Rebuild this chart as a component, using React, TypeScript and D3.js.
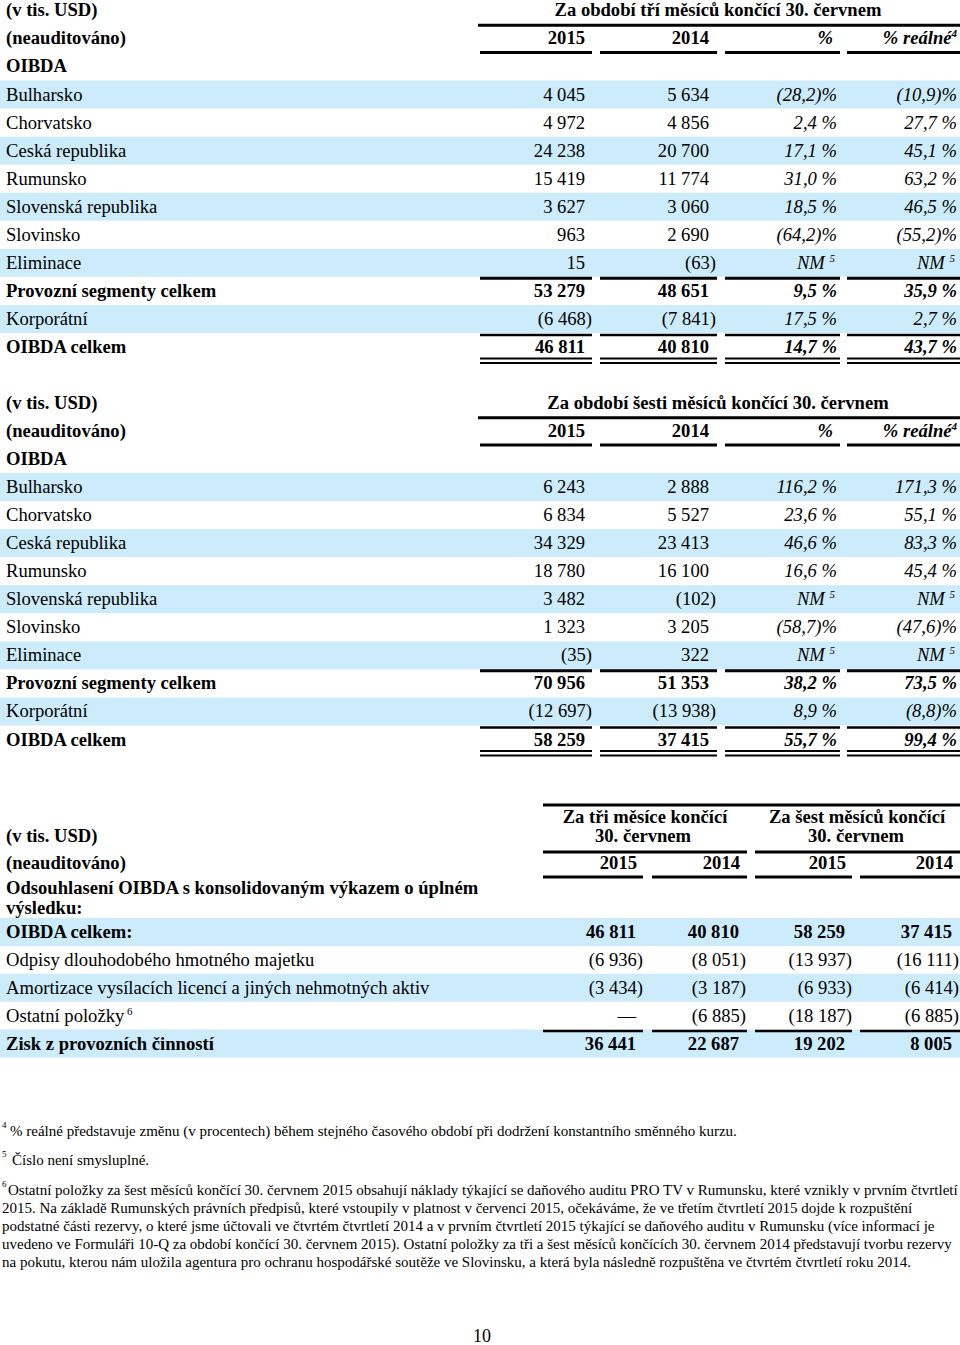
import React from "react";
import * as d3 from "d3";

// ---- data ----
const segments = [
  "Bulharsko",
  "Chorvatsko",
  "Ceská republika",
  "Rumunsko",
  "Slovenská republika",
  "Slovinsko",
  "Eliminace",
  "Provozní segmenty celkem",
  "Korporátní",
  "OIBDA celkem",
];
const boldRows = ["Provozní segmenty celkem", "OIBDA celkem"];

// three months ended 30 June
const q2015 = [4045, 4972, 24238, 15419, 3627, 963, 15, 53279, -6468, 46811];
const q2014 = [5634, 4856, 20700, 11774, 3060, 2690, -63, 48651, -7841, 40810];
const qPct = [-28.2, 2.4, 17.1, 31.0, 18.5, -64.2, null, 9.5, 17.5, 14.7];
const qReal = [-10.9, 27.7, 45.1, 63.2, 46.5, -55.2, null, 35.9, 2.7, 43.7];

// six months ended 30 June
const h2015 = [6243, 6834, 34329, 18780, 3482, 1323, -35, 70956, -12697, 58259];
const h2014 = [2888, 5527, 23413, 16100, -102, 3205, 322, 51353, -13938, 37415];
const hPct = [116.2, 23.6, 46.6, 16.6, null, -58.7, null, 38.2, 8.9, 55.7];
const hReal = [171.3, 55.1, 83.3, 45.4, null, -47.6, null, 73.5, -8.8, 99.4];

// reconciliation
const reconLabels = [
  "OIBDA celkem:",
  "Odpisy dlouhodobého hmotného majetku",
  "Amortizace vysílacích licencí a jiných nehmotných aktiv",
  "Ostatní položky",
  "Zisk z provozních činností",
];
const r3m2015 = [46811, -6936, -3434, null, 36441];
const r3m2014 = [40810, -8051, -3187, -6885, 22687];
const r6m2015 = [58259, -13937, -6933, -18187, 19202];
const r6m2014 = [37415, -16111, -6414, -6885, 8005];

const footnote4 =
  "% reálné představuje změnu (v procentech) během stejného časového období při dodržení konstantního směnného kurzu.";
const footnote5 = "Číslo není smysluplné.";
const footnote6 = [
  "Ostatní položky za šest měsíců končící 30. červnem 2015 obsahují náklady týkající se daňového auditu PRO TV v Rumunsku, které vznikly v prvním čtvrtletí",
  "2015. Na základě Rumunských právních předpisů, které vstoupily v platnost v červenci 2015, očekáváme, že ve třetím čtvrtletí 2015 dojde k rozpuštění",
  "podstatné části rezervy, o které jsme účtovali ve čtvrtém čtvrtletí 2014 a v prvním čtvrtletí 2015 týkající se daňového auditu v Rumunsku (více informací je",
  "uvedeno ve Formuláři 10-Q za období končící 30. červnem 2015). Ostatní položky za tři a šest měsíců končících 30. červnem 2014 představují tvorbu rezervy",
  "na pokutu, kterou nám uložila agentura pro ochranu hospodářské soutěže ve Slovinsku, a která byla následně rozpuštěna ve čtvrtém čtvrtletí roku 2014.",
];

// ---- styling ----
const W = 960;
const H = 1345;
const FONT = "'Liberation Serif', 'Times New Roman', serif";
const FS = 18.6;
const BAND = "#cdecfb";

const locale = d3.formatLocale({ decimal: ",", thousands: " ", grouping: [3], currency: ["", ""] });
const fmtInt = locale.format(",d");
const fmtPct = locale.format(".1f");

const colKeys = ["a", "b", "c", "d"];
const xMain = d3.scaleOrdinal<string, number>().domain(colKeys).range([585, 709, 837, 957]);
const xRecon = d3.scaleOrdinal<string, number>().domain(colKeys).range([636, 739, 845, 952]);

const segsMain = [[480, 592], [600, 717], [725, 840], [847, 960]];
const segsRecon = [[543, 643], [652, 747], [755, 852], [860, 960]];
const segsGroup = [[543, 747], [755, 960]];

const Sup = ({ t }: { t: string }) => (
  <tspan fontSize={11} dy={-7}>{t}</tspan>
);

function NumCell({ x, y, v, bold }: { x: number; y: number; v: number | null; bold?: boolean }) {
  if (v === null) {
    return (
      <text x={x} y={y} textAnchor="end" fontWeight={bold ? "bold" : "normal"}>—</text>
    );
  }
  const neg = v < 0;
  return (
    <text x={neg ? x + 7 : x} y={y} textAnchor="end" fontWeight={bold ? "bold" : "normal"}>
      {neg ? `(${fmtInt(-v)})` : fmtInt(v)}
    </text>
  );
}

function PctCell({ x, y, v, bold }: { x: number; y: number; v: number | null; bold?: boolean }) {
  const fw = bold ? "bold" : "normal";
  if (v === null) {
    return (
      <text x={x - 2} y={y} textAnchor="end" fontStyle="italic" fontWeight={fw}>
        NM <Sup t="5" />
      </text>
    );
  }
  return (
    <text x={x} y={y} textAnchor="end" fontStyle="italic" fontWeight={fw}>
      {v < 0 ? `(${fmtPct(-v)})%` : `${fmtPct(v)} %`}
    </text>
  );
}

function Segs({ segs, y, w }: { segs: number[][]; y: number; w: number }) {
  return (
    <g>
      {segs.map((s, i) => (
        <line key={i} x1={s[0]} x2={s[1]} y1={y} y2={y} stroke="#000" strokeWidth={w} />
      ))}
    </g>
  );
}

function SegmentTable({
  y0,
  y9,
  title,
  c2015,
  c2014,
  cPct,
  cReal,
}: {
  y0: number;
  y9: number;
  title: string;
  c2015: (number | null)[];
  c2014: (number | null)[];
  cPct: (number | null)[];
  cReal: (number | null)[];
}) {
  const y = d3.scaleLinear().domain([0, segments.length - 1]).range([y0, y9]);
  const base = (i: number) => y(i) + 6;
  return (
    <g>
      {segments.map((s, i) =>
        i % 2 === 0 ? <rect key={s} x={0} y={y(i) - 14} width={W} height={28} fill={BAND} /> : null
      )}
      <text x={6} y={base(-3)} fontWeight="bold">(v tis. USD)</text>
      <text x={718} y={base(-3)} fontWeight="bold" textAnchor="middle">{title}</text>
      <line x1={478} x2={W} y1={y(-3) + 15} y2={y(-3) + 15} stroke="#000" strokeWidth={3} />
      <text x={6} y={base(-2)} fontWeight="bold">(neauditováno)</text>
      <text x={xMain("a")} y={base(-2)} fontWeight="bold" textAnchor="end">2015</text>
      <text x={xMain("b")} y={base(-2)} fontWeight="bold" textAnchor="end">2014</text>
      <text x={xMain("c") - 4} y={base(-2)} fontWeight="bold" fontStyle="italic" textAnchor="end">%</text>
      <text x={xMain("d")} y={base(-2)} fontWeight="bold" fontStyle="italic" textAnchor="end">
        % reálné<Sup t="4" />
      </text>
      <Segs segs={segsMain} y={y(-2) + 14} w={3} />
      <text x={6} y={base(-1)} fontWeight="bold">OIBDA</text>
      {segments.map((s, i) => {
        const b = boldRows.includes(s);
        return (
          <g key={s}>
            <text x={6} y={base(i)} fontWeight={b ? "bold" : "normal"}>{s}</text>
            <NumCell x={xMain("a")} y={base(i)} v={c2015[i]} bold={b} />
            <NumCell x={xMain("b")} y={base(i)} v={c2014[i]} bold={b} />
            <PctCell x={xMain("c")} y={base(i)} v={cPct[i]} bold={b} />
            <PctCell x={xMain("d")} y={base(i)} v={cReal[i]} bold={b} />
          </g>
        );
      })}
      <Segs segs={segsMain} y={y(6) + 15.5} w={3} />
      <Segs segs={segsMain} y={y(8) + 16} w={2.5} />
      <Segs segs={segsMain} y={y(9) + 11.5} w={2} />
      <Segs segs={segsMain} y={y(9) + 16} w={2} />
    </g>
  );
}

function ReconTable() {
  const y = d3.scaleLinear().domain([0, reconLabels.length - 1]).range([932, 1043.5]);
  const base = (i: number) => y(i) + 6;
  const cols = [r3m2015, r3m2014, r6m2015, r6m2014];
  return (
    <g>
      {reconLabels.map((s, i) =>
        i % 2 === 0 ? <rect key={s} x={0} y={y(i) - 14} width={W} height={28} fill={BAND} /> : null
      )}
      <line x1={543} x2={W} y1={805} y2={805} stroke="#000" strokeWidth={3} />
      <text x={645} y={823} fontWeight="bold" textAnchor="middle">Za tři měsíce končící</text>
      <text x={643} y={842} fontWeight="bold" textAnchor="middle">30. červnem</text>
      <text x={857} y={823} fontWeight="bold" textAnchor="middle">Za šest měsíců končící</text>
      <text x={856} y={842} fontWeight="bold" textAnchor="middle">30. červnem</text>
      <Segs segs={segsGroup} y={852} w={3} />
      <text x={6} y={842} fontWeight="bold">(v tis. USD)</text>
      <text x={6} y={869} fontWeight="bold">(neauditováno)</text>
      {["2015", "2014", "2015", "2014"].map((t, j) => (
        <text key={j} x={xRecon(colKeys[j]) + 1} y={869} fontWeight="bold" textAnchor="end">{t}</text>
      ))}
      <Segs segs={segsRecon} y={877} w={3} />
      <text x={6} y={894} fontWeight="bold">Odsouhlasení OIBDA s konsolidovaným výkazem o úplném</text>
      <text x={6} y={914} fontWeight="bold">výsledku:</text>
      {reconLabels.map((s, i) => {
        const b = i === 0 || i === reconLabels.length - 1;
        return (
          <g key={s}>
            <text x={6} y={base(i)} fontWeight={b ? "bold" : "normal"}>
              {s}
              {i === 3 ? <Sup t=" 6" /> : null}
            </text>
            {cols.map((c, j) => (
              <NumCell key={j} x={xRecon(colKeys[j])} y={base(i)} v={c[i]} bold={b} />
            ))}
          </g>
        );
      })}
      <Segs segs={segsRecon} y={1031} w={2.5} />
    </g>
  );
}

function Footnotes() {
  const fs = 15;
  return (
    <g fontSize={fs}>
      <text x={2} y={1128} fontSize={9}>4</text>
      <text x={10} y={1136}>{footnote4}</text>
      <text x={2} y={1157} fontSize={9}>5</text>
      <text x={12} y={1165}>{footnote5}</text>
      <text x={2} y={1187} fontSize={9}>6</text>
      {footnote6.map((l, i) => (
        <text key={i} x={i === 0 ? 8 : 2} y={1195 + i * 18}>{l}</text>
      ))}
      <text x={482} y={1342} fontSize={18} textAnchor="middle">10</text>
    </g>
  );
}

export default function App() {
  return (
    <div style={{ position: "absolute", left: 0, top: 0, width: W, height: H, background: "#fff" }}>
      <svg width={W} height={H} fontFamily={FONT} fontSize={FS} fill="#000" style={{ display: "block" }}>
        <rect x={0} y={0} width={W} height={H} fill="#fff" />
        <SegmentTable
          y0={94.5}
          y9={347}
          title="Za období tří měsíců končící 30. červnem"
          c2015={q2015}
          c2014={q2014}
          cPct={qPct}
          cReal={qReal}
        />
        <SegmentTable
          y0={487}
          y9={739.5}
          title="Za období šesti měsíců končící 30. červnem"
          c2015={h2015}
          c2014={h2014}
          cPct={hPct}
          cReal={hReal}
        />
        <ReconTable />
        <Footnotes />
      </svg>
    </div>
  );
}
